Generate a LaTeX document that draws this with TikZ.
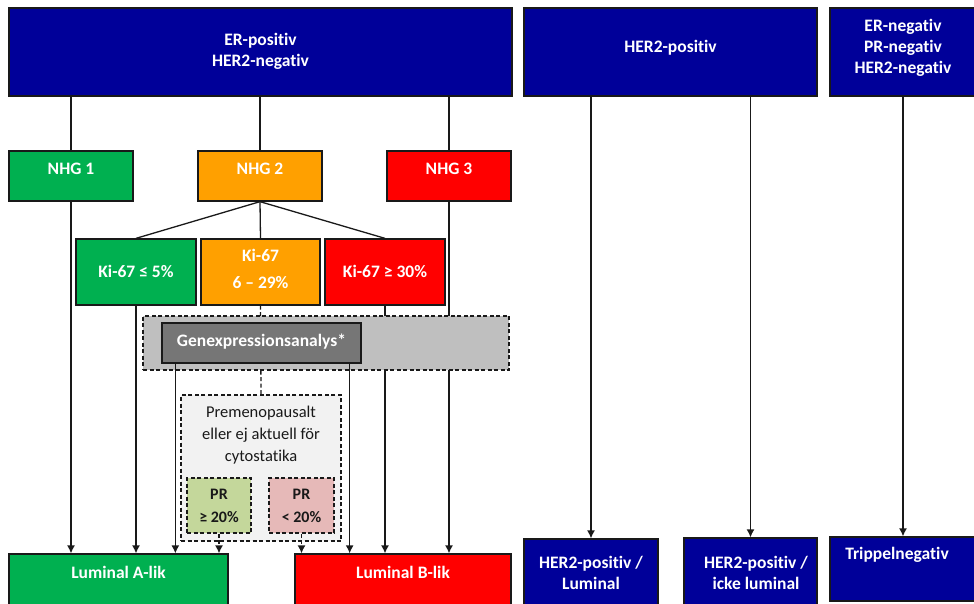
\documentclass[tikz,border=0pt]{standalone}
\usepackage{fontspec}
\setmainfont{Carlito}[Ligatures={NoCommon,NoContextual}, RawFeature={-liga;-clig;-calt}]
\usetikzlibrary{arrows.meta}
\definecolor{navy}{RGB}{0,0,153}
\definecolor{grn}{RGB}{0,176,80}
\definecolor{org}{RGB}{255,160,0}
\definecolor{rd}{RGB}{255,0,0}
\definecolor{band}{RGB}{191,191,191}
\definecolor{darkbox}{RGB}{118,118,118}
\definecolor{paper}{RGB}{242,242,242}
\definecolor{prgreen}{RGB}{196,215,155}
\definecolor{prpink}{RGB}{230,185,184}
\definecolor{ink}{RGB}{25,25,25}
\begin{document}
\begin{tikzpicture}[x=1pt,y=-1pt,
  box/.style={draw=ink, line width=1.3pt, inner sep=0pt},
  dbox/.style={draw=ink, line width=1.2pt, inner sep=0pt, dash pattern=on 4pt off 2.5pt},
  lbl/.style={text=white, font=\bfseries\fontsize{17.5}{21}\selectfont, align=center, inner sep=0pt},
  conn/.style={draw=ink, line width=1.3pt},
  arr/.style={conn, -{Latex[length=8pt,width=8pt]}},
  darr/.style={arr, dash pattern=on 4pt off 2.5pt}]
\useasboundingbox (0,0) rectangle (974,603);
\clip (0,0) rectangle (974,603);

% top level receptor boxes
\node[box, fill=navy, minimum width=503pt, minimum height=88pt] (er) at (260.5,52) {};
\node[box, fill=navy, minimum width=293pt, minimum height=88pt] (her2) at (670.5,52) {};
\node[box, fill=navy, minimum width=146pt, minimum height=88pt] (tn) at (903,52) {};

% histological grade
\node[box, fill=grn, minimum width=124pt, minimum height=50pt] (nhg1) at (71,176) {};
\node[box, fill=org, minimum width=124pt, minimum height=50pt] (nhg2) at (260,176) {};
\node[box, fill=rd,  minimum width=124pt, minimum height=50pt] (nhg3) at (449,176) {};

% Ki-67 split of grade 2
\node[box, fill=grn, minimum width=120pt, minimum height=66pt] (ki1) at (136,272) {};
\node[box, fill=org, minimum width=119pt, minimum height=66pt] (ki2) at (260.5,272) {};
\node[box, fill=rd,  minimum width=120pt, minimum height=66pt] (ki3) at (385,272) {};

% outcome boxes
\node[box, fill=grn, minimum width=219pt, minimum height=58pt] (lumA) at (118.5,583) {};
\node[box, fill=rd,  minimum width=216pt, minimum height=58pt] (lumB) at (403,583) {};
\node[box, fill=navy, minimum width=134pt, minimum height=73pt] (hl) at (591,575.5) {};
\node[box, fill=navy, minimum width=133pt, minimum height=74pt] (hi) at (750.5,575) {};
\node[box, fill=navy, minimum width=146pt, minimum height=64pt] (tb) at (903,569) {};

% connectors running behind the gene expression band
\draw[conn] (er.south -| nhg1) -- (nhg1.north);
\draw[conn] (er.south -| nhg2) -- (nhg2.north);
\draw[conn] (er.south -| nhg3) -- (nhg3.north);
\draw[arr] (her2.south -| hl) -- (hl.north);
\draw[arr] (her2.south -| hi) -- (hi.north);
\draw[arr] (tn.south) -- (tb.north);
\draw[conn] (nhg2.south) -- (ki1.north);
\draw[conn] (nhg2.south) -- (ki2.north);
\draw[conn] (nhg2.south) -- (ki3.north);
\draw[arr] (nhg1.south) -- (nhg1.south |- lumA.north);
\draw[arr] (nhg3.south) -- (nhg3.south |- lumB.north);
\draw[arr] (ki1.south) -- (ki1.south |- lumA.north);
\draw[arr] (ki3.south) -- (ki3.south |- lumB.north);

% premenopausal sub-decision
\node[dbox, fill=paper, minimum width=160pt, minimum height=146pt] (premen) at (261,468) {};
\draw[conn, dash pattern=on 4pt off 2.5pt] (ki2.south) -- (premen.north);

% gene expression band
\node[dbox, fill=band, minimum width=366pt, minimum height=54pt] (band) at (326,343) {};
\node[box, fill=darkbox, minimum width=199pt, minimum height=40pt] (genex) at (261.5,343) {};
\draw[arr] ([xshift=14pt]genex.south west) -- ([xshift=14pt]genex.south west |- lumA.north);
\draw[arr] ([xshift=-12pt]genex.south east) -- ([xshift=-12pt]genex.south east |- lumB.north);

\node[dbox, fill=prgreen, minimum width=64pt, minimum height=55pt] (prg) at (219,505.5) {};
\node[dbox, fill=prpink, minimum width=65pt, minimum height=55pt] (prr) at (301.5,505.5) {};
\draw[darr] (prg.south) -- (prg.south |- lumA.north);
\draw[darr] (prr.south) -- (prr.south |- lumB.north);

% labels
\node[lbl] (er-t) at (260.5,51.5) {ER-positiv\\HER2-negativ};
\node[lbl] (her2-t) at (670.5,48) {HER2-positiv};
\node[lbl] (tn-t) at (903,48) {ER-negativ\\PR-negativ\\HER2-negativ};
\node[lbl] (nhg1-t) at (71,169) {NHG 1};
\node[lbl] (nhg2-t) at (260,169) {NHG 2};
\node[lbl] (nhg3-t) at (449,169) {NHG 3};
\node[lbl] (ki1-t) at (136,271) {Ki-67 ≤ 5\%};
\node[lbl, font=\bfseries\fontsize{17.5}{27}\selectfont] (ki2-t) at (260.5,268.5) {Ki-67\\6 – 29\%};
\node[lbl] (ki3-t) at (385,271) {Ki-67 ≥ 30\%};
\node[lbl] (genex-t) at (261.5,342) {Genexpressionsanalys*};
\node[align=center, inner sep=0pt, text=ink, font=\fontsize{16.5}{22}\selectfont] (premen-t) at (261,435) {Premenopausalt\\eller ej aktuell för\\cytostatika};
\node[align=center, inner sep=0pt, text=ink, font=\bfseries\fontsize{16}{23}\selectfont] (prg-t) at (219,505.5) {PR\\≥ 20\%};
\node[align=center, inner sep=0pt, text=ink, font=\bfseries\fontsize{16}{23}\selectfont] (prr-t) at (301.5,505.5) {PR\\< 20\%};
\node[lbl] (lumA-t) at (118.5,572) {Luminal A-lik};
\node[lbl] (lumB-t) at (403,572) {Luminal B-lik};
\node[lbl] (hl-t) at (591,572.5) {HER2-positiv /\\Luminal};
\node[lbl] (hi-t) at (756,572.5) {HER2-positiv /\\icke luminal};
\node[lbl] (tb-t) at (897,555) {Trippelnegativ};
\end{tikzpicture}
\end{document}
